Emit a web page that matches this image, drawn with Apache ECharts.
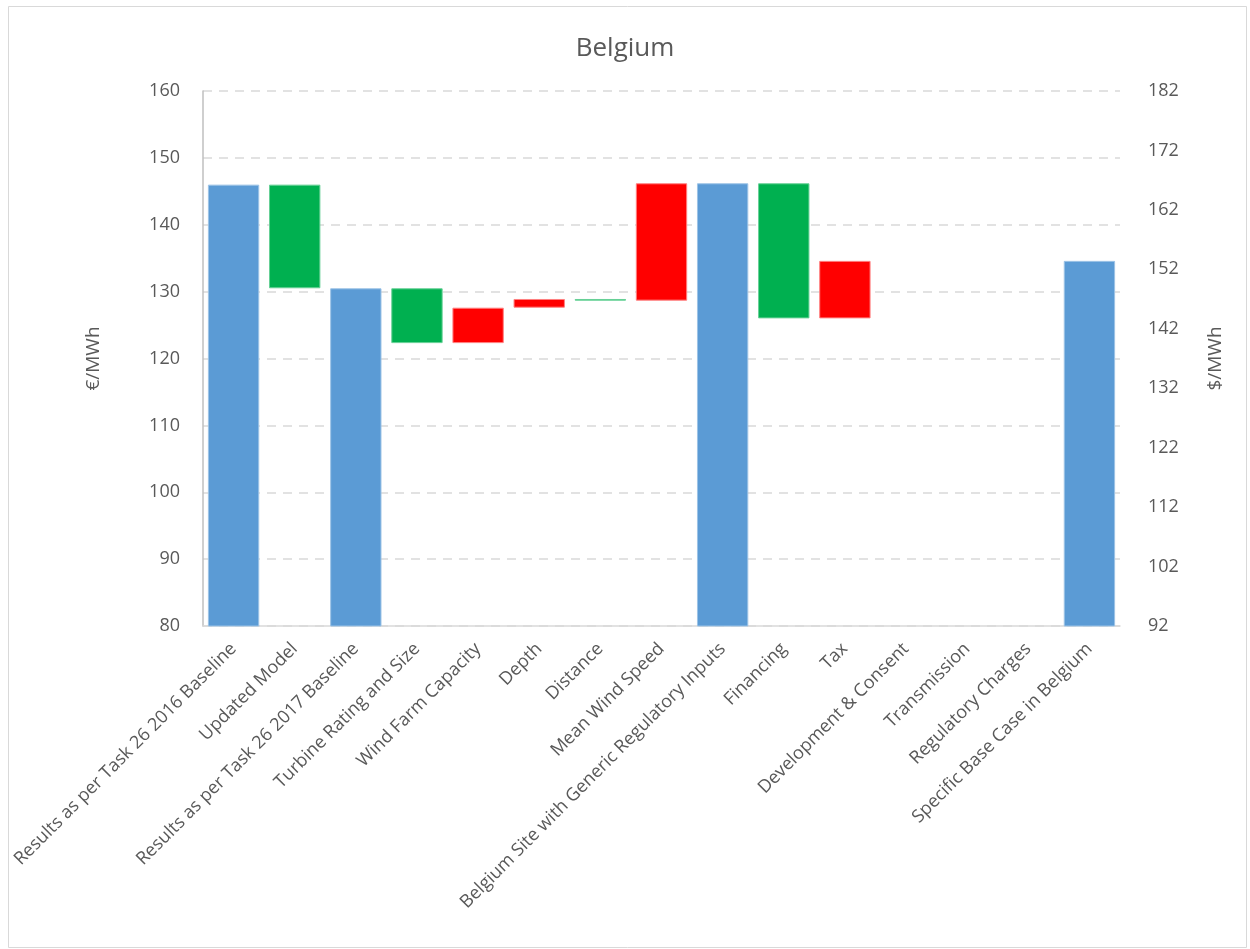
<!DOCTYPE html>
<html>
<head>
<meta charset="utf-8">
<script src="https://cdn.jsdelivr.net/npm/echarts@6/dist/echarts.min.js"></script>
<style>
html,body{margin:0;padding:0;background:#fff;}
#chart{width:1250px;height:949px;}
</style>
</head>
<body>
<div id="chart"></div>
<script>
const categories = [
  "Results as per Task 26 2016 Baseline",
  "Updated Model",
  "Results as per Task 26 2017 Baseline",
  "Turbine Rating and Size",
  "Wind Farm Capacity",
  "Depth",
  "Distance",
  "Mean Wind Speed",
  "Belgium Site with Generic Regulatory Inputs",
  "Financing",
  "Tax",
  "Development & Consent",
  "Transmission",
  "Regulatory Charges",
  "Specific Base Case in Belgium"
];
// value of each step: totals are absolute levels, others are changes
const values = [146.0, -15.5, 130.5, -8.2, 5.3, 1.3, -0.25, 17.55, 146.2, -20.2, 8.6, 0, 0, 0, 134.6];
const isTotal = [true, false, true, false, false, false, false, false, true, false, false, false, false, false, true];
const leftTicks = { min: 80, max: 160, interval: 10 };
const rightTicks = { min: 92, max: 182, interval: 10 };

// build stacked waterfall series from the values
const baseData = [], totalData = [], upData = [], downData = [];
let level = 0;
values.forEach((v, i) => {
  if (isTotal[i]) {
    level = v;
    baseData.push('-'); totalData.push(v); upData.push('-'); downData.push('-');
  } else if (v >= 0) {
    baseData.push(level); upData.push(v === 0 ? '-' : v); downData.push('-'); totalData.push('-');
    level += v;
  } else {
    level += v;
    baseData.push(level); downData.push(-v); upData.push('-'); totalData.push('-');
  }
});

const chart = echarts.init(document.getElementById('chart'));
const txt = '#595959';
const font = 'Open Sans';
chart.setOption({
  animation: false,
  backgroundColor: '#fff',
  textStyle: { fontFamily: font },
  graphic: [{
    type: 'rect', left: 6, top: 4,
    shape: { width: 1238, height: 941 },
    style: { fill: 'none', stroke: '#d9d9d9', lineWidth: 1 }
  }],
  title: {
    text: 'Belgium', left: 'center', top: 31,
    textStyle: { color: txt, fontSize: 26, fontWeight: 'normal', fontFamily: font }
  },
  grid: { left: 203, right: 130, top: 91, bottom: 323 },
  xAxis: {
    type: 'category', data: categories,
    axisLine: { lineStyle: { color: '#d9d9d9', width: 1.5 } },
    axisTick: { show: false },
    axisLabel: { rotate: 45, interval: 0, color: txt, fontSize: 18, margin: 20, fontFamily: font }
  },
  yAxis: [{
    type: 'value', min: leftTicks.min, max: leftTicks.max, interval: leftTicks.interval,
    name: '€/MWh', nameLocation: 'middle', nameGap: 100, nameRotate: 90,
    nameTextStyle: { color: txt, fontSize: 19, fontFamily: font },
    axisLine: { show: true, lineStyle: { color: '#bfbfbf', width: 1.5 } },
    axisTick: { show: false },
    axisLabel: { color: txt, fontSize: 18, margin: 23, fontFamily: font },
    splitLine: { lineStyle: { color: '#d9d9d9', type: [9, 7], width: 1.5 } }
  }, {
    type: 'value', min: rightTicks.min, max: rightTicks.max, interval: rightTicks.interval,
    name: '$/MWh', nameLocation: 'middle', nameGap: 86, nameRotate: 90,
    nameTextStyle: { color: txt, fontSize: 19, fontFamily: font },
    axisLine: { show: false }, axisTick: { show: false },
    axisLabel: { color: txt, fontSize: 18, margin: 28, fontFamily: font },
    splitLine: { show: false }
  }],
  series: [
    { name: 'base', type: 'bar', stack: 'w', data: baseData, barCategoryGap: '16%',
      itemStyle: { color: 'transparent' }, silent: true },
    { name: 'total', type: 'bar', stack: 'w', data: totalData,
      itemStyle: { color: '#5b9bd5', borderColor: '#9dc3e6', borderWidth: 1 } },
    { name: 'increase', type: 'bar', stack: 'w', data: upData,
      itemStyle: { color: '#ff0000', borderColor: '#ff8080', borderWidth: 1 } },
    { name: 'decrease', type: 'bar', stack: 'w', data: downData,
      itemStyle: { color: '#00b050', borderColor: '#66d096', borderWidth: 1 } }
  ]
});
</script>
</body>
</html>
